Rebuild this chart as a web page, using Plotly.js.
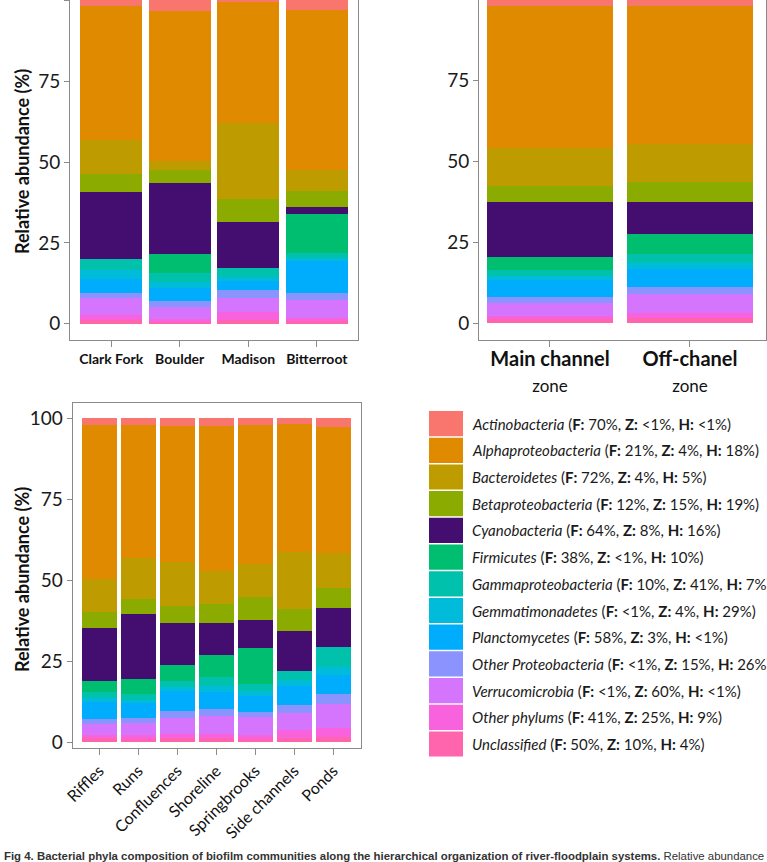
<!DOCTYPE html>
<html>
<head>
<meta charset="utf-8">
<script src="https://cdn.plot.ly/plotly-3.0.1.min.js"></script>
<style>
html,body{margin:0;padding:0;background:#fff;}
#chart{width:767px;height:862px;}
</style>
</head>
<body>
<div id="chart"></div>
<script>
// ---- Data (legend order: Actinobacteria ... Unclassified) ----
const phyla = ['Actinobacteria','Alphaproteobacteria','Bacteroidetes','Betaproteobacteria','Cyanobacteria','Firmicutes','Gammaproteobacteria','Gemmatimonadetes','Planctomycetes','Other Proteobacteria','Verrucomicrobia','Other phylums','Unclassified'];
const phylaColors = ['#F8766D','#E08A00','#BE9C00','#8CAB00','#430E6F','#00BE70','#00C1AB','#00BBDA','#00ACFC','#8B93FF','#D575FE','#F962DD','#FF65AC'];
const legendF = ['70%','21%','72%','12%','64%','38%','10%','<1%','58%','<1%','<1%','41%','50%'];
const legendZ = ['<1%','4%','4%','15%','8%','<1%','41%','4%','3%','15%','60%','25%','10%'];
const legendH = ['<1%','18%','5%','19%','16%','10%','7%','29%','<1%','26%','<1%','9%','4%'];

// Panel A: rivers
const rivers = ['Clark Fork','Boulder','Madison','Bitterroot'];
const clarkFork  = [1.8, 41.4, 10.5, 5.6, 20.6, 0.0, 3.6, 2.7, 4.3, 1.6, 5.1, 1.5, 1.3];
const boulder    = [3.4, 46.4, 2.7, 4.0, 21.9, 5.8, 2.8, 1.8, 4.2, 1.8, 3.8, 0.7, 0.7];
const madison    = [0.4, 37.5, 23.4, 7.1, 14.4, 0.0, 2.6, 1.5, 2.6, 2.4, 4.3, 2.5, 1.3];
const bitterroot = [2.9, 49.6, 6.3, 5.2, 2.0, 12.0, 1.5, 1.0, 10.0, 2.0, 5.7, 0.9, 0.9];

// Panel B: zones
const zones = ['Main channel','Off-chanel'];
const zoneSub = ['zone','zone'];
const mainChannel = [2.0, 43.8, 11.8, 5.0, 17.0, 4.1, 1.8, 1.2, 5.3, 1.6, 4.0, 1.2, 1.2];
const offChannel  = [2.0, 42.7, 11.7, 6.2, 9.9, 6.2, 2.8, 1.8, 5.4, 2.3, 5.9, 1.6, 1.5];

// Panel C: habitats
const habitats = ['Riffles','Runs','Confluences','Shoreline','Springbrooks','Side channels','Ponds'];
const riffles      = [2.2, 47.4, 10.1, 4.9, 16.4, 3.5, 1.8, 1.2, 5.2, 1.5, 3.4, 1.2, 1.2];
const runs         = [2.1, 40.9, 12.7, 4.6, 20.3, 4.5, 1.8, 1.1, 4.6, 1.4, 3.7, 1.2, 1.1];
const confluences  = [2.3, 42.1, 13.4, 5.5, 12.7, 5.1, 1.8, 1.2, 6.2, 2.1, 5.1, 1.3, 1.2];
const shoreline    = [2.3, 44.7, 10.3, 5.8, 9.9, 7.0, 2.7, 1.8, 5.3, 2.1, 5.6, 1.3, 1.2];
const springbrooks = [2.2, 42.8, 10.3, 7.0, 8.7, 10.9, 2.2, 1.5, 5.0, 1.6, 5.6, 1.1, 1.1];
const sideChannels = [1.8, 39.6, 17.6, 6.8, 12.1, 0.0, 2.8, 1.8, 6.1, 2.3, 5.2, 2.5, 1.4];
const ponds        = [2.6, 39.1, 10.8, 6.0, 12.0, 0.0, 6.3, 2.5, 5.8, 3.1, 7.3, 2.8, 1.7];

const yTicks = [0, 25, 50, 75, 100];
const yTitle = 'Relative abundance (%)';
const captionBold = 'Fig 4. Bacterial phyla composition of biofilm communities along the hierarchical organization of river-floodplain systems.';
const captionRest = 'Relative abundance';

// ---- Build ----
const W = 767, H = 862;
const px = x => x / W;
const py = y => 1 - y / H;
const esc = s => s.replace(/</g, '&lt;');
const FONT = 'Lato, "Open Sans", sans-serif';
const FRAME = '#8a8a8a';

const panels = [
  {cats: rivers, rows: [clarkFork, boulder, madison, bitterroot], xa: 'x', ya: 'y'},
  {cats: zones, rows: [mainChannel, offChannel], xa: 'x2', ya: 'y2'},
  {cats: habitats, rows: [riffles, runs, confluences, shoreline, springbrooks, sideChannels, ponds], xa: 'x3', ya: 'y3'}
];

const traces = [];
panels.forEach(p => {
  for (let k = phyla.length - 1; k >= 0; k--) {
    traces.push({
      type: 'bar',
      x: p.cats,
      y: p.rows.map(r => r[k]),
      name: phyla[k],
      xaxis: p.xa, yaxis: p.ya,
      marker: {color: phylaColors[k], line: {width: 0}},
      showlegend: false,
      hoverinfo: 'name+y'
    });
  }
});

const yCommon = {
  tickvals: yTicks, ticks: 'outside', ticklen: 5, tickcolor: FRAME, tickwidth: 1,
  showline: true, linecolor: FRAME, linewidth: 1, mirror: true,
  showgrid: false, zeroline: false,
  tickfont: {family: FONT, size: 19, color: '#1a1a1a'}
};
const xCommon = {
  type: 'category', ticks: 'outside', ticklen: 6, tickcolor: FRAME, tickwidth: 1,
  showline: true, linecolor: FRAME, linewidth: 1,
  showgrid: false, zeroline: false
};

const annotations = [];
// y titles
[[22, 162], [22, 580]].forEach(([x, y]) => {
  annotations.push({
    xref: 'paper', yref: 'paper', x: px(x), y: py(y), xanchor: 'center', yanchor: 'middle',
    text: '<b>' + yTitle + '</b>', textangle: -90, showarrow: false,
    font: {family: FONT, size: 18, color: '#111'}
  });
});
// legend
const shapes = [];
const legTop = 411, legPitch = 26.7, legH = 25.2;
phyla.forEach((name, i) => {
  const t = legTop + i * legPitch;
  shapes.push({type: 'rect', xref: 'paper', yref: 'paper',
    x0: px(429), x1: px(463), y0: py(t + legH), y1: py(t),
    fillcolor: phylaColors[i], line: {width: 0}});
  annotations.push({
    xref: 'paper', yref: 'paper', x: px(470), y: py(t + legH / 2), xanchor: 'left', yanchor: 'middle',
    showarrow: false, align: 'left',
    text: '<i>' + name + '</i> (<b>F:</b> ' + esc(legendF[i]) + ', <b>Z:</b> ' + esc(legendZ[i]) + ', <b>H:</b> ' + esc(legendH[i]) + ')',
    font: {family: FONT, size: 15, color: '#1a1a1a'}
  });
});
// caption
annotations.push({
  xref: 'paper', yref: 'paper', x: px(2), y: py(856), xanchor: 'left', yanchor: 'middle',
  showarrow: false, align: 'left',
  text: '<b>' + captionBold + '</b> ' + captionRest,
  font: {family: '"Liberation Sans", Arial, sans-serif', size: 11.4, color: '#333'}
});

const layout = {
  width: W, height: H,
  margin: {l: 0, r: 0, t: 0, b: 0},
  paper_bgcolor: '#fff', plot_bgcolor: '#fff',
  barmode: 'stack', bargap: 0.1,
  showlegend: false,
  xaxis: Object.assign({}, xCommon, {
    domain: [px(70), px(358)], anchor: 'y', range: [-0.6, 3.6],
    tickvals: rivers, ticktext: rivers.map(r => '<b>' + r + '</b>'),
    tickfont: {family: FONT, size: 14, color: '#111'}
  }),
  yaxis: Object.assign({}, yCommon, {domain: [py(340), 1], anchor: 'x', range: [-5, 100.1]}),
  xaxis2: Object.assign({}, xCommon, {
    domain: [px(479), px(766)], anchor: 'y2', range: [-0.507, 1.543],
    tickvals: zones, ticktext: zones.map((z, i) => '<b>' + z + '</b><br><span style="font-size:17px">' + zoneSub[i] + '</span>'),
    tickfont: {family: FONT, size: 20, color: '#111'},
    ticklabelstandoff: -5
  }),
  yaxis2: Object.assign({}, yCommon, {domain: [py(339.5), 1], anchor: 'x2', range: [-5, 99.7]}),
  xaxis3: Object.assign({}, xCommon, {
    domain: [px(72.7), px(361)], anchor: 'y3', range: [-0.68, 6.71], mirror: true,
    tickvals: habitats, tickangle: -45,
    tickfont: {family: FONT, size: 16, color: '#111'}
  }),
  yaxis3: Object.assign({}, yCommon, {domain: [py(748.3), py(402.7)], anchor: 'x3', range: [-1.85, 104.8]}),
  annotations: annotations,
  shapes: shapes
};

Plotly.newPlot('chart', traces, layout, {staticPlot: true, displayModeBar: false});
</script>
</body>
</html>
